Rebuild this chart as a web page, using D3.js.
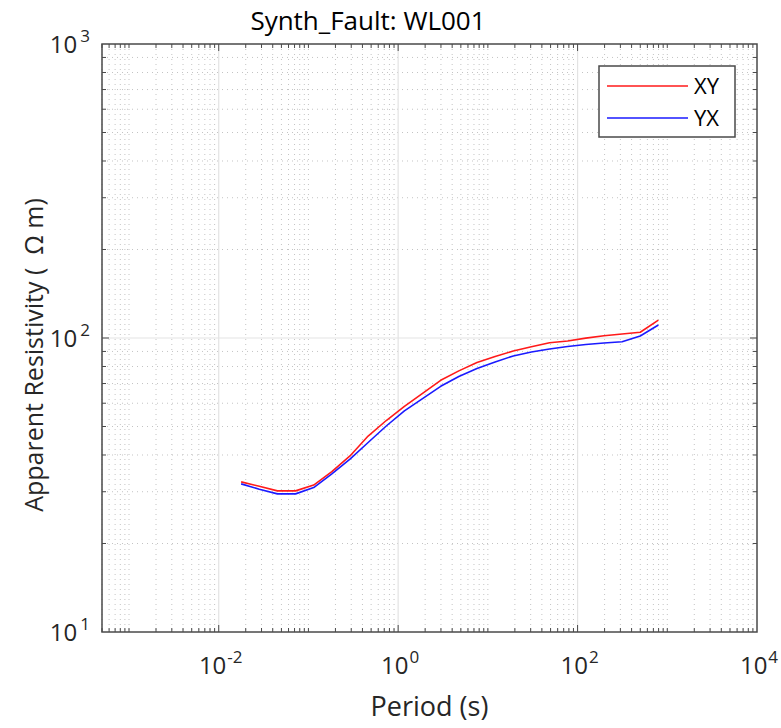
<!DOCTYPE html>
<html>
<head>
<meta charset="utf-8">
<script src="https://cdn.jsdelivr.net/npm/d3@7"></script>
<style>
  html, body { margin: 0; padding: 0; background: #fff; }
  svg { display: block; font-family: "Open Sans", "DejaVu Sans", sans-serif; }
  text { white-space: pre; }
</style>
</head>
<body>
<svg id="chart" width="781" height="728"></svg>
<script>
// ---- data ----
const periods = [0.01778, 0.02833, 0.04512, 0.07187, 0.1145, 0.1824, 0.2905, 0.4627,
  0.737, 1.174, 1.871, 2.980, 4.747, 7.561, 12.04, 19.19, 30.56, 48.69, 77.55,
  123.5, 196.8, 313.5, 499.3, 795.4];
const rhoXY = [32.4, 31.3, 30.2, 30.2, 31.6, 35.1, 39.7, 46.4, 52.4, 58.5, 64.8,
  71.8, 77.3, 82.5, 86.5, 90.3, 93.4, 96.3, 97.7, 99.9, 101.8, 103.2, 104.6, 115.1];
const rhoYX = [31.9, 30.6, 29.5, 29.5, 31.0, 34.5, 38.7, 44.1, 50.2, 56.5, 62.2,
  68.5, 74.0, 78.8, 82.9, 86.9, 89.6, 91.8, 93.6, 95.0, 96.2, 97.1, 101.6, 110.7];
const seriesNames = ["XY", "YX"];
const seriesColors = ["#ff1a1a", "#1a1aff"];
const xTickExps = [-2, 0, 2, 4];
const yTickExps = [1, 2, 3];
const titleText = "Synth_Fault: WL001";
const xLabelText = "Period (s)";
const yLabelText = "Apparent Resistivity (\u00A0\u00A0\u03A9 m)";

// ---- layout ----
const svg = d3.select("#chart");
const L = 102, R = 757, T = 44, B = 632;
const x = d3.scaleLog().domain([5e-4, 1e4]).range([L, R]);
const y = d3.scaleLog().domain([10, 1000]).range([B, T]);

const gridG = svg.append("g");
const xMinor = [], yMinor = [];
for (let e = -4; e <= 3; e++) for (let m = 1; m <= 9; m++) {
  const v = m * Math.pow(10, e);
  const isLabelled = m === 1 && xTickExps.includes(e);
  if (v > 5e-4 - 1e-9 && v < 1e4 && !isLabelled) xMinor.push(v);
}
for (let e = 1; e <= 2; e++) for (let m = 2; m <= 9; m++) yMinor.push(m * Math.pow(10, e));
const xMajor = xTickExps.map(e => Math.pow(10, e)).filter(v => v < 1e4);
const yMajor = [100];

const minorColor = "#c4c4c4", majorColor = "#e3e3e3";
gridG.selectAll(".xmg").data(xMinor).join("line")
  .attr("x1", d => x(d)).attr("x2", d => x(d)).attr("y1", T).attr("y2", B)
  .attr("stroke", minorColor).attr("stroke-width", 1).attr("stroke-dasharray", "1,4");
gridG.selectAll(".ymg").data(yMinor).join("line")
  .attr("y1", d => y(d)).attr("y2", d => y(d)).attr("x1", L).attr("x2", R)
  .attr("stroke", minorColor).attr("stroke-width", 1).attr("stroke-dasharray", "1,4");
gridG.selectAll(".xMg").data(xMajor).join("line")
  .attr("x1", d => x(d)).attr("x2", d => x(d)).attr("y1", T).attr("y2", B)
  .attr("stroke", majorColor).attr("stroke-width", 1.2);
gridG.selectAll(".yMg").data(yMajor).join("line")
  .attr("y1", d => y(d)).attr("y2", d => y(d)).attr("x1", L).attr("x2", R)
  .attr("stroke", majorColor).attr("stroke-width", 1.2);

// ---- lines ----
const line = d3.line().x(d => x(d[0])).y(d => y(d[1]));
[rhoXY, rhoYX].forEach((arr, i) => {
  svg.append("path")
    .datum(periods.map((p, k) => [p, arr[k]]))
    .attr("d", line).attr("fill", "none")
    .attr("stroke", seriesColors[i]).attr("stroke-width", 1.6)
    .attr("stroke-linejoin", "round");
});

// ---- axes (ticks inside, box) ----
const axG = svg.append("g");
const axisColor = "#4a4a4a";
xMinor.concat(xMajor).forEach(v => {
  const len = xMajor.includes(v) ? 7 : 4;
  axG.append("line").attr("x1", x(v)).attr("x2", x(v)).attr("y1", B).attr("y2", B - len)
    .attr("stroke", axisColor).attr("stroke-width", 1);
  axG.append("line").attr("x1", x(v)).attr("x2", x(v)).attr("y1", T).attr("y2", T + len)
    .attr("stroke", axisColor).attr("stroke-width", 1);
});
yMinor.concat(yMajor).forEach(v => {
  const len = yMajor.includes(v) ? 7 : 4;
  axG.append("line").attr("y1", y(v)).attr("y2", y(v)).attr("x1", L).attr("x2", L + len)
    .attr("stroke", axisColor).attr("stroke-width", 1);
  axG.append("line").attr("y1", y(v)).attr("y2", y(v)).attr("x1", R).attr("x2", R - len)
    .attr("stroke", axisColor).attr("stroke-width", 1);
});
axG.append("rect").attr("x", L).attr("y", T).attr("width", R - L).attr("height", B - T)
  .attr("fill", "none").attr("stroke", axisColor).attr("stroke-width", 1.5);

// tick labels
const labColor = "#262626";
xTickExps.forEach(e => {
  const t = svg.append("text").attr("x", x(Math.pow(10, e)) + 2).attr("y", B + 42)
    .attr("text-anchor", "middle").attr("fill", labColor).attr("font-size", 24);
  t.append("tspan").text("10");
  t.append("tspan").attr("dx", 1).attr("dy", -11).attr("font-size", 17).text(String(e));
});
yTickExps.forEach(e => {
  const t = svg.append("text").attr("x", L - 12).attr("y", y(Math.pow(10, e)) + 9)
    .attr("text-anchor", "end").attr("fill", labColor).attr("font-size", 24);
  t.append("tspan").text("10");
  t.append("tspan").attr("dx", 3).attr("dy", -11).attr("font-size", 17).text(String(e));
});

// titles
svg.append("text").attr("x", 368).attr("y", 30).attr("text-anchor", "middle")
  .attr("fill", "#000").attr("font-size", 26).text(titleText);
svg.append("text").attr("x", (L + R) / 2).attr("y", 716).attr("text-anchor", "middle")
  .attr("fill", labColor).attr("font-size", 27).text(xLabelText);
svg.append("text").attr("transform", `translate(43,${(T + B) / 2 + 17}) rotate(-90)`)
  .attr("text-anchor", "middle").attr("fill", labColor).attr("font-size", 25).text(yLabelText);

// legend
const lg = svg.append("g");
lg.append("rect").attr("x", 599).attr("y", 66).attr("width", 136).attr("height", 71)
  .attr("fill", "#fff").attr("stroke", axisColor).attr("stroke-width", 1.5);
seriesNames.forEach((n, i) => {
  const yy = 86 + i * 32;
  lg.append("line").attr("x1", 607).attr("x2", 688).attr("y1", yy).attr("y2", yy)
    .attr("stroke", seriesColors[i]).attr("stroke-width", 1.6);
  lg.append("text").attr("x", 694).attr("y", yy + 8).attr("fill", "#000")
    .attr("font-size", 22).text(n);
});
</script>
</body>
</html>
